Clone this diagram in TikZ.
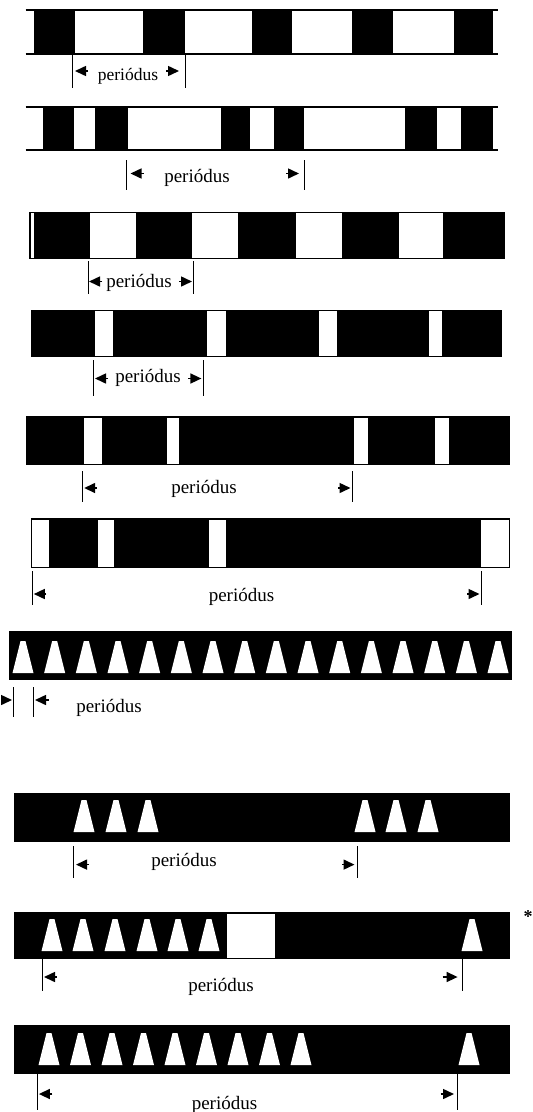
\documentclass[tikz,border=0pt]{standalone}
\usepackage{fontspec}
\setmainfont{Liberation Serif}
\usepackage{tikz}
\usetikzlibrary{arrows.meta,positioning}

\begin{document}
\begin{tikzpicture}[x=1pt, y=-1pt,
        rail/.style={line width=1.2pt},
        tick/.style={line width=1pt},
        arr/.style={-{Triangle[length=11pt,width=10pt]}, line width=1.5pt},
        lbl/.style={font=\fontsize{19}{19}\selectfont, inner sep=0pt},
        gap/.style={fill=white},
        cone/.pic={\fill[white] (-10.5,0) -- (-2.5,-32) -- (2.5,-32) -- (10.5,0) -- cycle;}
]
    \useasboundingbox (0,0) rectangle (533,1112);

    % row 1
    \foreach \a/\b in {34/75,143/185,252/292,352/393,454/493} \fill (\a,10) rectangle (\b,54);
    \draw[rail] (25.5,10) -- (498,10) (25.5,54) -- (498,54);
    \coordinate (a1) at (72,71); \coordinate (b1) at (185,71);
    \draw[tick] (a1) ++(0,-17) -- ++(0,34); \draw[tick] (b1) ++(0,-17) -- ++(0,34);
    \draw[arr] ([xshift=16]a1) -- ([xshift=3]a1);
    \draw[arr] ([xshift=-19]b1) -- ([xshift=-6]b1);
    \node[lbl, font=\fontsize{17.5}{17.5}\selectfont] (t1) at (128,76) {periódus};

    % row 2
    \foreach \a/\b in {42.5/74,95/128,221/250,274/304,405/437,461/493} \fill (\a,107) rectangle (\b,150);
    \draw[rail] (25.5,107) -- (498,107) (25.5,150) -- (498,150);
    \coordinate (a2) at (126.5,173.5); \coordinate (b2) at (304,173.5);
    \draw[tick] (a2) ++(0,-13.5) -- ++(0,30); \draw[tick] (b2) ++(0,-13.5) -- ++(0,30);
    \draw[arr] ([xshift=17]a2) -- ([xshift=4]a2);
    \draw[arr] ([xshift=-18]b2) -- ([xshift=-5]b2);
    \node[lbl] (t2) at (197,178) {periódus};

    % row 3
    \draw[rail] (30,212.5) rectangle (504,258.5);
    \foreach \a/\b in {34/90,136/192,238/296,342/399,443/503} \fill (\a,212.5) rectangle (\b,258.5);
    \coordinate (a3) at (88,281.5); \coordinate (b3) at (193,281.5);
    \draw[tick] (a3) ++(0,-20.5) -- ++(0,32.5); \draw[tick] (b3) ++(0,-20.5) -- ++(0,32.5);
    \draw[arr] ([xshift=14]a3) -- ([xshift=1]a3);
    \draw[arr] ([xshift=-14]b3) -- ([xshift=-1]b3);
    \node[lbl] (t3) at (139,283) {periódus};

    % row 4
    \fill (30.6,309.5) rectangle (501.7,357);
    \foreach \a/\b in {94.5/113,207/226,319/337,429/441.5} \fill[gap] (\a,311) rectangle (\b,355.5);
    \coordinate (a4) at (93,378.5); \coordinate (b4) at (203.4,378.5);
    \draw[tick] (a4) ++(0,-18.5) -- ++(0,35.5); \draw[tick] (b4) ++(0,-18.5) -- ++(0,35.5);
    \draw[arr] ([xshift=15]a4) -- ([xshift=2]a4);
    \draw[arr] ([xshift=-15]b4) -- ([xshift=-2]b4);
    \node[lbl] (t4) at (148,378) {periódus};

    % row 5
    \fill (25.5,416) rectangle (510,465);
    \foreach \a/\b in {84/102,167/178.6,354/368,435/449} \fill[gap] (\a,417.5) rectangle (\b,463.5);
    \coordinate (a5) at (82.7,488); \coordinate (b5) at (352,488);
    \draw[tick] (a5) ++(0,-17) -- ++(0,31); \draw[tick] (b5) ++(0,-17) -- ++(0,31);
    \draw[arr] ([xshift=14]a5) -- ([xshift=1.5]a5);
    \draw[arr] ([xshift=-14]b5) -- ([xshift=-1.5]b5);
    \node[lbl] (t5) at (204,489) {periódus};

    % row 6
    \fill (30.6,518) rectangle (510,568);
    \foreach \a/\b in {32/49,98/114,209/226,481/508.6} \fill[gap] (\a,519.5) rectangle (\b,566.5);
    \coordinate (a6) at (32.3,594); \coordinate (b6) at (481,594);
    \draw[tick] (a6) ++(0,-23) -- ++(0,34); \draw[tick] (b6) ++(0,-23) -- ++(0,34);
    \draw[arr] ([xshift=14]a6) -- ([xshift=1.5]a6);
    \draw[arr] ([xshift=-14]b6) -- ([xshift=-1.5]b6);
    \node[lbl] (t6) at (241.5,597) {periódus};

    % row 7
    \fill (8.5,630.6) rectangle (512,680);
    \foreach \i in {0,...,15} \pic at ({23+31.67*\i},673) {cone};
    \coordinate (a7) at (13,700); \coordinate (b7) at (33.5,700);
    \draw[tick] (a7) ++(0,-13) -- ++(0,30); \draw[tick] (b7) ++(0,-13) -- ++(0,30);
    \draw[arr] ([xshift=-12]a7) -- ([xshift=-1]a7);
    \draw[arr] ([xshift=15]b7) -- ([xshift=1.5]b7);
    \node[lbl] (t7) at (109,708) {periódus};

    % row 8
    \fill (13.5,792.7) rectangle (510,841.7);
    \foreach \x in {84,116,148,365,396,428} \pic at (\x,832) {cone};
    \coordinate (a8) at (73,864.6); \coordinate (b8) at (357,864.6);
    \draw[tick] (a8) ++(0,-18.6) -- ++(0,31.6); \draw[tick] (b8) ++(0,-18.6) -- ++(0,31.6);
    \draw[arr] ([xshift=16]a8) -- ([xshift=3]a8);
    \draw[arr] ([xshift=-15]b8) -- ([xshift=-2.5]b8);
    \node[lbl] (t8) at (184,862) {periódus};

    % row 9
    \fill (13.5,912) rectangle (510,959);
    \fill[gap] (227,913.5) rectangle (275,957.5);
    \foreach \x in {52,83,115,147,178,209,472} \pic at (\x,951) {cone};
    \node[font=\fontsize{18}{18}\selectfont\bfseries, inner sep=0pt] (ast) at (528,917) {*};
    \coordinate (a9) at (42.5,977); \coordinate (b9) at (462.6,977);
    \draw[tick] (a9) ++(0,-19) -- ++(0,32.6); \draw[tick] (b9) ++(0,-19) -- ++(0,32.6);
    \draw[arr] ([xshift=14]a9) -- ([xshift=1.5]a9);
    \draw[arr] ([xshift=-20]b9) -- ([xshift=-5]b9);
    \node[lbl] (t9) at (221,987) {periódus};

    % row 10
    \fill (13.5,1024.6) rectangle (510,1074);
    \foreach \i in {0,...,8} \pic at ({49+31.5*\i},1065) {cone};
    \pic at (469,1065) {cone};
    \coordinate (a10) at (37.4,1094); \coordinate (b10) at (457.5,1094);
    \draw[tick] (a10) ++(0,-20) -- ++(0,36); \draw[tick] (b10) ++(0,-20) -- ++(0,36);
    \draw[arr] ([xshift=15]a10) -- ([xshift=1.5]a10);
    \draw[arr] ([xshift=-17]b10) -- ([xshift=-3.5]b10);
    \node[lbl] (t10) at (224.5,1104.6) {periódus};
\end{tikzpicture}
\end{document}
